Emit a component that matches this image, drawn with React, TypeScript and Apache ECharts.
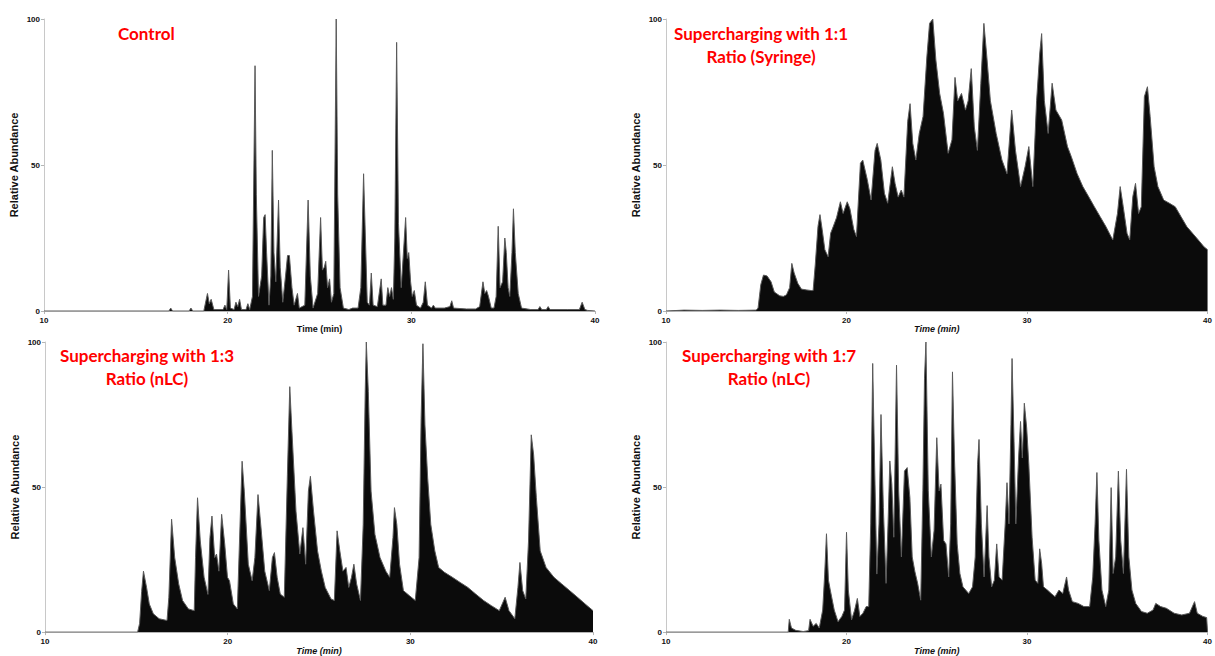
import React, { useEffect, useRef } from "react";
import * as echarts from "echarts";

// Retention time (min) / relative abundance pairs
const control: number[][] = [
  [10,0],[16.8,0],[16.9,1],[17.0,0],[17.9,0],[18.0,1],[18.1,0],[18.7,0],[18.9,6],[19.0,2.5],[19.1,4],[19.25,0.5],[19.75,0.5],[19.85,2],[19.95,0.5],[20.05,14],[20.15,1],[20.35,0.5],[20.45,3],[20.55,1.5],[20.65,4],[20.75,0.5],[21.0,0.5],[21.1,2.5],[21.2,0.5],[21.35,5],[21.49,84],[21.56,40],[21.68,5],[21.85,12],[21.96,32],[22.04,33],[22.12,20],[22.25,2],[22.35,12],[22.43,55],[22.52,20],[22.62,10],[22.77,38],[22.86,15],[23.0,3],[23.15,12],[23.26,19],[23.36,19],[23.5,8],[23.62,2],[23.8,6],[23.9,1],[24.2,2],[24.38,38],[24.5,12],[24.65,1],[24.9,6],[25.06,32],[25.16,14],[25.26,15],[25.34,17],[25.44,8],[25.55,11],[25.65,3],[25.78,6],[25.91,100],[25.99,40],[26.12,8],[26.3,1],[26.6,0.5],[26.8,1],[27.1,1],[27.25,8],[27.4,47],[27.5,25],[27.6,3],[27.72,2],[27.82,13],[27.92,2],[28.15,1.5],[28.36,11],[28.45,2],[28.62,2],[28.72,8],[28.82,5],[28.92,8],[29.02,4],[29.1,25],[29.2,92],[29.3,30],[29.45,8],[29.62,25],[29.69,32],[29.78,18],[29.86,20],[29.96,10],[30.05,5],[30.16,7],[30.28,2],[30.5,1],[30.65,3],[30.76,10],[30.88,2],[31.1,1],[31.2,2],[31.3,1],[31.8,1],[32.1,1.5],[32.2,3.5],[32.3,1],[33.0,0.7],[33.5,0.7],[33.72,1.5],[33.9,10],[34.0,6],[34.1,7],[34.2,5],[34.35,1],[34.5,1],[34.62,5],[34.73,29],[34.83,8],[34.97,10],[35.09,25],[35.17,20],[35.27,8],[35.36,5],[35.48,20],[35.56,35],[35.66,20],[35.82,6],[36.0,1],[36.5,0.5],[36.9,0.5],[37.0,1.5],[37.1,0.5],[37.35,0.5],[37.45,1.5],[37.55,0.5],[38.5,0.5],[39.15,0.5],[39.3,3],[39.45,0.5],[39.6,0.2],[40,0]
];

const syringe11: number[][] = [
  [10,0],[11,0.3],[12,0.2],[13,0.3],[14,0.2],[15.0,0.3],[15.1,1],[15.25,9],[15.4,12.3],[15.6,12],[15.82,10],[16.0,6.5],[16.3,5.2],[16.5,5],[16.67,5.5],[16.85,8],[16.97,16.3],[17.1,13],[17.3,9.5],[17.5,7.5],[17.8,7.2],[18.05,7],[18.15,7],[18.27,16],[18.42,29],[18.53,33],[18.65,28],[18.8,21],[18.98,18.6],[19.12,26.6],[19.27,29],[19.45,32],[19.66,37.4],[19.81,33.4],[20.04,37.4],[20.19,35],[20.4,28],[20.55,25.5],[20.77,50.6],[20.9,51.7],[21.15,45],[21.36,38],[21.58,55],[21.7,57.4],[21.9,51.7],[22.1,40.3],[22.28,36.9],[22.54,49.4],[22.69,43.7],[22.86,39],[23.03,41.4],[23.18,39],[23.39,65],[23.52,71],[23.67,57.4],[23.84,51.7],[24.03,60.8],[24.24,66.6],[24.45,87],[24.6,98.5],[24.78,100],[24.95,86],[25.16,74.5],[25.37,67.7],[25.63,54],[25.84,58.6],[26.01,80],[26.16,72],[26.37,74.5],[26.59,68.8],[26.74,72],[26.91,83],[27.08,63],[27.25,55],[27.44,78],[27.61,98.5],[27.76,88],[27.97,72],[28.29,60.8],[28.61,51.7],[28.89,47],[29.15,68.8],[29.36,55],[29.64,42.6],[29.89,49.4],[30.1,56.3],[30.32,42.6],[30.53,72],[30.7,88],[30.81,95],[30.96,72],[31.17,60.8],[31.39,78],[31.6,68.8],[31.92,65.4],[32.24,56.3],[32.45,52.9],[32.77,47.1],[33.09,42.6],[33.41,39.2],[33.73,35.7],[34.05,32.3],[34.37,28.9],[34.75,24.3],[35.01,33.4],[35.16,42.6],[35.33,35.7],[35.54,26.6],[35.69,24.3],[35.86,39.2],[36.01,43.7],[36.18,33.4],[36.33,35.7],[36.5,73.4],[36.67,76.8],[36.82,66.6],[37.04,49.4],[37.25,42.6],[37.57,38],[37.89,36.9],[38.21,35.7],[38.53,32.3],[38.85,28.9],[39.17,26.6],[39.49,24.3],[39.8,22],[40,21]
];

const nlc13: number[][] = [
  [10,0],[15.07,0],[15.18,3],[15.29,14],[15.39,21],[15.56,15.4],[15.71,9.7],[15.93,6.3],[16.25,4.6],[16.68,4],[16.78,12],[16.93,38.9],[17.1,25.7],[17.32,16.6],[17.53,10.9],[17.85,8],[18.17,7.4],[18.24,25.7],[18.35,46.3],[18.5,31.4],[18.71,18.9],[18.92,13],[19.03,32.6],[19.14,40],[19.29,25.7],[19.39,26.9],[19.52,21],[19.67,40.6],[19.84,30.3],[19.99,18.9],[20.1,17.7],[20.31,9.7],[20.53,8],[20.7,41.7],[20.79,58.9],[20.91,48.6],[21.13,23.4],[21.34,17.7],[21.49,25.7],[21.66,47.4],[21.81,37.1],[22.03,21],[22.28,14.3],[22.45,25.7],[22.56,27.4],[22.71,18.9],[22.88,13.1],[23.1,12],[23.27,54.3],[23.4,84.6],[23.52,69.1],[23.74,41.7],[23.95,26.9],[24.12,36],[24.27,23.4],[24.42,48.6],[24.53,53.7],[24.7,41.7],[24.92,28],[25.13,21],[25.34,15.4],[25.66,11.4],[25.84,10.9],[25.99,34.9],[26.14,28],[26.31,21],[26.48,22.3],[26.63,15.4],[26.78,18.9],[26.91,23.4],[27.06,16.6],[27.27,10.9],[27.42,37.1],[27.53,82.9],[27.59,100],[27.7,82.9],[27.85,48.6],[28.06,33.7],[28.34,25.7],[28.66,21],[28.87,18.9],[29.05,32.6],[29.13,42.9],[29.26,37.1],[29.41,23.4],[29.62,14.3],[29.94,12.6],[30.27,10.9],[30.48,25.7],[30.59,73.7],[30.69,99.4],[30.8,71.4],[30.95,53.1],[31.12,37.1],[31.34,28],[31.55,22.3],[31.87,20.6],[32.3,18.9],[32.73,17.1],[33.15,15.4],[33.58,13.1],[34.01,10.9],[34.44,9.1],[34.87,7.4],[35.19,12],[35.4,7.4],[35.72,4.6],[35.89,15.4],[36.0,24],[36.15,14.3],[36.32,11.4],[36.47,31.4],[36.62,68],[36.75,61.1],[36.9,46.3],[37.11,28],[37.43,22.3],[37.86,18.9],[38.29,16.6],[38.72,14.3],[39.15,12],[39.57,9.7],[40,7.4]
];

const nlc17: number[][] = [
  [10,0],[16.77,0],[16.83,4.4],[16.95,1.4],[17.19,0.6],[17.6,0.2],[17.9,0.5],[17.98,4.4],[18.15,2],[18.32,3],[18.49,1.4],[18.68,7.6],[18.79,20],[18.89,33.9],[19.0,17.9],[19.1,14.5],[19.32,7.6],[19.53,3.6],[19.74,5.4],[19.89,7.6],[20.0,34.4],[20.1,14.5],[20.28,4.2],[20.45,7.6],[20.6,11.6],[20.74,5.4],[20.91,6.5],[21.09,8.8],[21.23,8.8],[21.34,37.3],[21.45,92.6],[21.55,60],[21.68,20],[21.8,37.3],[21.91,75],[22.04,43],[22.19,16.8],[22.3,37.3],[22.4,59],[22.51,51],[22.62,32.7],[22.77,92],[22.89,48.7],[23.04,25.9],[23.21,55.5],[23.36,56.7],[23.51,46.4],[23.64,25.9],[23.79,20.8],[23.94,16.8],[24.11,11],[24.23,48.7],[24.32,87.5],[24.4,100],[24.53,48.7],[24.7,25.9],[24.85,35],[25.0,67],[25.13,48.7],[25.23,51],[25.38,31.6],[25.51,30.4],[25.66,19],[25.77,37.3],[25.87,89.7],[25.98,60],[26.13,30.4],[26.28,20.2],[26.45,15.6],[26.77,13.3],[26.98,15.6],[27.13,25.9],[27.26,57.8],[27.34,66.4],[27.47,37.3],[27.62,19],[27.79,43.6],[27.89,25.9],[28.04,15.6],[28.19,17.9],[28.32,30.4],[28.45,19],[28.62,17.9],[28.79,37.3],[28.89,51.5],[29.0,37.3],[29.11,71.5],[29.17,94.3],[29.28,65.8],[29.38,37.3],[29.53,60],[29.64,72.6],[29.74,60],[29.85,78.9],[29.98,70.4],[30.1,57.8],[30.28,32.7],[30.45,17.9],[30.6,16.8],[30.7,28.7],[30.81,23.6],[30.91,15.6],[31.13,14.5],[31.34,13.3],[31.55,12.2],[31.77,14.5],[31.98,13.3],[32.19,19],[32.3,14.5],[32.51,10.5],[32.83,9.9],[33.15,8.8],[33.47,8.8],[33.64,19],[33.77,37.3],[33.87,55],[33.98,31.6],[34.15,14.5],[34.36,8.8],[34.53,14.5],[34.66,49.8],[34.77,20.2],[34.91,25.9],[35.06,55.5],[35.19,31.6],[35.34,20.2],[35.51,56.1],[35.64,25.9],[35.81,14.5],[36.02,9.9],[36.34,7.1],[36.66,6.5],[36.98,7.6],[37.13,9.9],[37.4,8.8],[37.72,8.2],[38.15,6.5],[38.57,5.9],[39.0,6.5],[39.28,10.5],[39.43,6.5],[39.74,5.4],[39.95,5],[40,0]
];

const xTicks = [10, 20, 30, 40];
const panelTitles = [
  ["Control"],
  ["Supercharging with 1:1", "Ratio (Syringe)"],
  ["Supercharging with 1:3", "Ratio (nLC)"],
  ["Supercharging with 1:7", "Ratio (nLC)"],
];
const xTitle = "Time (min)";
const yTitle = "Relative Abundance";

export default function App() {
  const ref = useRef<HTMLDivElement>(null);
  useEffect(() => {
    if (!ref.current) return;
    const chart = echarts.init(ref.current, undefined, { renderer: "svg" });
    const datasets = [control, syringe11, nlc13, nlc17];
    const grids = [
      { left: 44, top: 19, width: 551, height: 292 },
      { left: 666, top: 19, width: 548, height: 292 },
      { left: 45, top: 342, width: 548, height: 291 },
      { left: 666, top: 342, width: 548, height: 291 },
    ];
    const italicX = [false, true, true, true];
    const titleAnchors = [
      { x: 118, y: 33, align: "left" },
      { x: 761, y: 33, align: "center" },
      { x: 147, y: 355, align: "center" },
      { x: 769, y: 355, align: "center" },
    ];
    const axisLabelStyle = {
      color: "#111",
      fontSize: 8,
      fontWeight: "bold" as const,
      fontFamily: "Liberation Sans, Arial, sans-serif",
    };
    const graphic: any[] = [];
    panelTitles.forEach((lines, i) => {
      lines.forEach((ln, j) => {
        graphic.push({
          type: "text",
          x: titleAnchors[i].x,
          y: titleAnchors[i].y + j * 23,
          style: {
            text: ln,
            fill: "#ff0000",
            font: "bold 17px Lato, 'Open Sans', sans-serif",
            textAlign: titleAnchors[i].align,
            textVerticalAlign: "middle",
          },
          silent: true,
        });
      });
    });
    chart.setOption({
      animation: false,
      backgroundColor: "#ffffff",
      grid: grids.map((g) => ({ ...g, containLabel: false })),
      xAxis: grids.map((_, i) => ({
        type: "value",
        gridIndex: i,
        min: 10,
        max: 40,
        interval: 10,
        name: xTitle,
        nameLocation: "middle",
        nameGap: 13,
        nameTextStyle: {
          color: "#111",
          fontSize: 9,
          fontWeight: "bold",
          fontStyle: italicX[i] ? "italic" : "normal",
          fontFamily: "Liberation Sans, Arial, sans-serif",
        },
        axisLine: { show: true, onZero: false, lineStyle: { color: "#b5b5b5", width: 1 } },
        axisTick: { show: true, length: 3, lineStyle: { color: "#b5b5b5" } },
        axisLabel: { ...axisLabelStyle, margin: 5, customValues: xTicks },
        splitLine: { show: false },
      })),
      yAxis: grids.map((_, i) => ({
        type: "value",
        gridIndex: i,
        min: 0,
        max: 100,
        interval: 50,
        name: yTitle,
        nameLocation: "middle",
        nameGap: 25,
        nameTextStyle: {
          color: "#111",
          fontSize: 11,
          fontWeight: "bold",
          fontFamily: "Liberation Sans, Arial, sans-serif",
        },
        axisLine: { show: true, lineStyle: { color: "#c8c8c8", width: 1 } },
        axisTick: { show: true, length: 3, lineStyle: { color: "#b5b5b5" } },
        axisLabel: { ...axisLabelStyle, margin: 4 },
        splitLine: { show: false },
      })),
      series: datasets.map((d, i) => ({
        type: "line",
        xAxisIndex: i,
        yAxisIndex: i,
        data: d,
        showSymbol: false,
        symbol: "none",
        silent: true,
        lineStyle: { color: "#5a5a5a", width: 1 },
        areaStyle: { color: "#0b0b0b", opacity: 1 },
      })),
      graphic,
    });
    return () => chart.dispose();
  }, []);
  return (
    <div
      ref={ref}
      style={{ position: "fixed", left: 0, top: 0, width: 1215, height: 656, background: "#fff" }}
    />
  );
}
